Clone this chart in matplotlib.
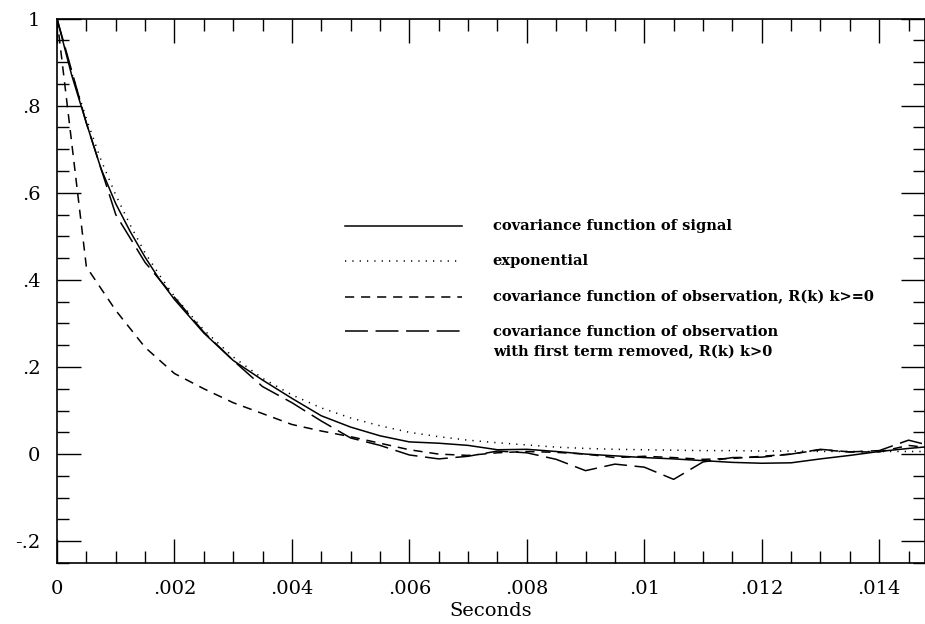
import matplotlib
matplotlib.use("Agg")
import matplotlib.pyplot as plt
from matplotlib.lines import Line2D
from matplotlib.ticker import FixedLocator, MultipleLocator

# time axis (seconds)
t = [0, 0.0005, 0.001, 0.0015, 0.002, 0.0025, 0.003, 0.0035, 0.004, 0.0045,
     0.005, 0.0055, 0.006, 0.0065, 0.007, 0.0075, 0.008, 0.0085, 0.009, 0.0095,
     0.01, 0.0105, 0.011, 0.0115, 0.012, 0.0125, 0.013, 0.0135, 0.014, 0.0145, 0.015]

# finer sampling for the smooth curves at the start
t_fine = [0, 0.00025, 0.0005, 0.00075, 0.001, 0.00125, 0.0015, 0.00175, 0.002,
          0.0025, 0.003, 0.0035, 0.004, 0.0045, 0.005, 0.0055, 0.006, 0.0065,
          0.007, 0.0075, 0.008, 0.0085, 0.009, 0.0095, 0.01, 0.0105, 0.011,
          0.0115, 0.012, 0.0125, 0.013, 0.0135, 0.014, 0.0145, 0.015]

signal = [1.0, 0.87, 0.76, 0.655, 0.575, 0.51, 0.452, 0.40, 0.355,
          0.278, 0.215, 0.17, 0.128, 0.088, 0.062, 0.042, 0.028, 0.025,
          0.02, 0.01, 0.011, 0.006, 0.0, -0.004, -0.008, -0.011, -0.015,
          -0.019, -0.021, -0.02, -0.011, -0.003, 0.006, 0.013, 0.019]

exponential = [1.0, 0.875, 0.77, 0.675, 0.595, 0.525, 0.462, 0.41, 0.362,
               0.285, 0.223, 0.174, 0.136, 0.106, 0.083, 0.065, 0.05, 0.04,
               0.032, 0.026, 0.021, 0.016, 0.013, 0.011, 0.01, 0.009, 0.008,
               0.008, 0.007, 0.007, 0.006, 0.006, 0.006, 0.006, 0.006]

observation = [1.0, 0.43, 0.33, 0.245, 0.185, 0.15, 0.118, 0.093, 0.068, 0.053,
               0.04, 0.025, 0.01, 0.0, -0.003, 0.003, 0.006, 0.004, 0.0, -0.008,
               -0.005, -0.008, -0.012, -0.01, -0.005, 0.0, 0.01, 0.005, 0.005, 0.02, 0.012]

removed = [1.0, 0.76, 0.55, 0.44, 0.36, 0.28, 0.215, 0.155, 0.118, 0.076,
           0.037, 0.02, -0.002, -0.011, -0.005, 0.007, 0.003, -0.012, -0.038, -0.023,
           -0.03, -0.058, -0.018, -0.008, -0.007, 0.0, 0.011, 0.005, 0.008, 0.032, 0.015]

x_ticks = [0, 0.002, 0.004, 0.006, 0.008, 0.010, 0.012, 0.014]
x_labels = ["0", ".002", ".004", ".006", ".008", ".01", ".012", ".014"]
y_ticks = [-0.2, 0, 0.2, 0.4, 0.6, 0.8, 1.0]
y_labels = ["-.2", "0", ".2", ".4", ".6", ".8", "1"]

legend_labels = ["covariance function of signal",
                 "exponential",
                 "covariance function of observation, R(k) k>=0",
                 "covariance function of observation\nwith first term removed, R(k) k>0"]

plt.rcParams["font.family"] = "DejaVu Serif"

fig = plt.figure(figsize=(9.25, 6.24), dpi=100)
ax = fig.add_axes([57 / 925, 1 - 563 / 624, 868 / 925, (563 - 18.5) / 624])

styles = [dict(ls="-", lw=1.1),
          dict(ls=(0, (0.8, 4)), lw=1.1),
          dict(ls=(0, (6, 4.5)), lw=1.1),
          dict(ls=(0, (15, 5)), lw=1.1)]

ax.plot(t_fine, signal, color="black", **styles[0])
ax.plot(t_fine, exponential, color="black", **styles[1])
ax.plot(t, observation, color="black", **styles[2])
ax.plot(t, removed, color="black", **styles[3])

ax.set_xlim(0, 0.01478)
ax.set_ylim(-0.25, 1.0)

ax.xaxis.set_major_locator(FixedLocator(x_ticks))
ax.set_xticklabels(x_labels)
ax.xaxis.set_minor_locator(MultipleLocator(0.0005))
ax.yaxis.set_major_locator(FixedLocator(y_ticks))
ax.set_yticklabels(y_labels)
ax.yaxis.set_minor_locator(MultipleLocator(0.05))

ax.tick_params(which="both", direction="in", top=True, right=True, width=1.0, colors="black")
ax.tick_params(which="major", length=17, labelsize=14)
ax.tick_params(axis="x", which="major", pad=12)
ax.tick_params(axis="y", which="major", pad=12)
ax.tick_params(which="minor", length=8.5)
for s in ax.spines.values():
    s.set_linewidth(1.2)

ax.set_xlabel("Seconds", fontsize=14)
ax.xaxis.set_label_coords(0.5, -0.072)

# hand-drawn legend, no frame
leg_y = [0.618, 0.554, 0.488, 0.4257]
for st, lab, yy in zip(styles, legend_labels, leg_y):
    ax.add_line(Line2D([0.332, 0.4666], [yy, yy], transform=ax.transAxes, color="black", **st))
    if "\n" in lab:
        ax.text(0.502, yy + 0.012, lab, transform=ax.transAxes, fontsize=10.5, va="top",
                linespacing=1.6, fontweight="bold")
    else:
        ax.text(0.502, yy, lab, transform=ax.transAxes, fontsize=10.5, va="center",
                fontweight="bold")

fig.savefig("out.png", dpi=100)
